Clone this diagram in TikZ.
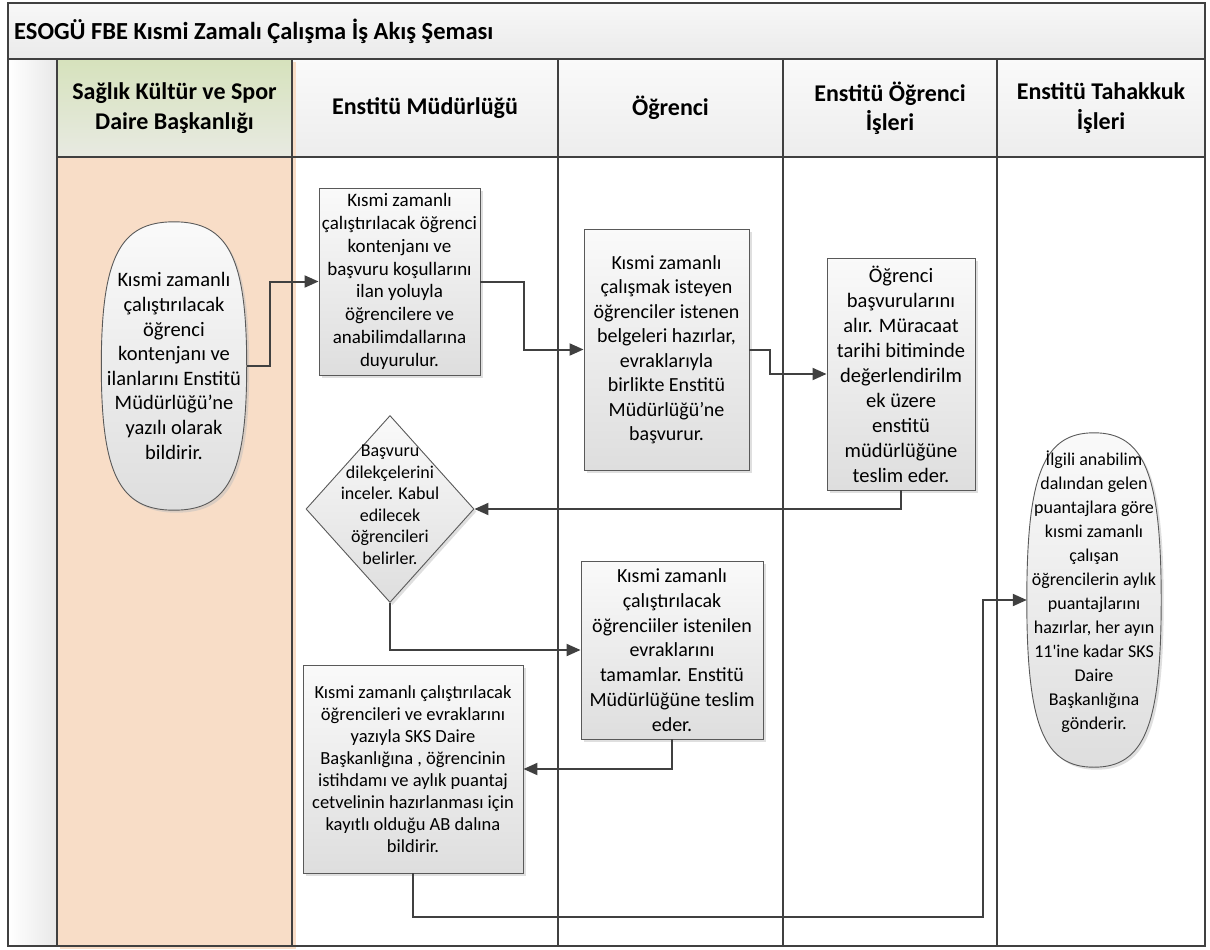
\documentclass[tikz,border=0pt]{standalone}
\usepackage{fontspec}
\setmainfont{Carlito}
\usetikzlibrary{shapes.geometric,arrows.meta,shadows,calc}

\definecolor{laneSand}{RGB}{248,221,199}
\definecolor{laneOliveTop}{RGB}{214,226,188}
\definecolor{laneOliveBottom}{RGB}{232,234,226}
\newcommand\laneColor{black!75}
\newcommand\laneLineWidth{1.6pt}
\newcommand\boxColor{black!65}
\newcommand\boxLineWidth{0.9pt}
\newcommand\arrowColor{black!75}
\newcommand\arrowLineWidth{2pt}
\newcommand\capsuleBend{0.75}
\newcommand\capsuleOutline[1]{(#1.north)
    .. controls ($(#1.north)!\capsuleBend!(#1.north east)$) and ($(#1.east)!\capsuleBend!(#1.north east)$) .. (#1.east)
    .. controls ($(#1.east)!\capsuleBend!(#1.south east)$) and ($(#1.south)!\capsuleBend!(#1.south east)$) .. (#1.south)
    .. controls ($(#1.south)!\capsuleBend!(#1.south west)$) and ($(#1.west)!\capsuleBend!(#1.south west)$) .. (#1.west)
    .. controls ($(#1.west)!\capsuleBend!(#1.north west)$) and ($(#1.north)!\capsuleBend!(#1.north west)$) .. (#1.north) -- cycle}

\tikzset{
    laneline/.style={draw=\laneColor, line width=\laneLineWidth},
    laneheader/.style={font=\bfseries\fontsize{24}{29.5}\selectfont, align=center, anchor=center, inner sep=0pt},
    flowshade/.style={draw=\boxColor, line width=\boxLineWidth, top color=black!2, bottom color=black!13,
        drop shadow={shadow xshift=2.5pt, shadow yshift=-2.5pt, fill=black!25}},
    flowbox/.style={flowshade, shape=rectangle, align=center, inner sep=0pt, anchor=center},
    flowdiamond/.style={flowshade, shape=diamond, inner sep=0pt, anchor=center},
    capsuleframe/.style={shape=rectangle, inner sep=0pt, anchor=center},
    flowtext/.style={align=center, inner sep=0pt, anchor=center},
    flowarrow/.style={draw=\arrowColor, line width=\arrowLineWidth, -{Triangle[length=14pt,width=12pt]}}
}

\begin{document}
\begin{tikzpicture}[x=1pt, y=1pt]

    \useasboundingbox (0,0) rectangle (1210,-950);

%Part One
    \shade [top color=black!3, bottom color=black!8] (8,-3) rectangle (1205,-59);
    \shade [left color=white, right color=black!9] (8,-59) rectangle (57,-946);
    \shade [top color=black!2, bottom color=black!7] (292,-59) rectangle (1205,-157);
    \fill [laneSand] (60,-62) rectangle (296,-949);
    \shade [top color=laneOliveTop, bottom color=laneOliveBottom] (57,-59) rectangle (292,-157);
    \fill [laneSand] (57,-157) rectangle (292,-946);

    \draw [laneline] (8,-3) rectangle (1205,-946);
    \draw [laneline] (8,-59) -- (1205,-59);
    \draw [laneline] (57,-157) -- (1205,-157);
    \foreach \x in {57,292,558,783,997}{
        \draw [laneline] (\x,-59) -- (\x,-946);
    }

    \node [anchor=west, inner sep=0pt, font=\bfseries\fontsize{24.5}{29}\selectfont] (Chart_Title) at (14,-31) {ESOGÜ FBE Kısmi Zamalı Çalışma İş Akış Şeması};

    \node [laneheader] (Lane_Header_First) at (174.5,-108) {Sağlık Kültür ve Spor\\Daire Başkanlığı};
    \node [laneheader] (Lane_Header_Second) at (425,-108) {Enstitü Müdürlüğü};
    \node [laneheader] (Lane_Header_Third) at (670.5,-108) {Öğrenci};
    \node [laneheader] (Lane_Header_Fourth) at (890,-108) {Enstitü Öğrenci\\İşleri};
    \node [laneheader] (Lane_Header_Fifth) at (1101,-108) {Enstitü Tahakkuk\\İşleri};

%Part Two
    \node [capsuleframe, minimum width=145pt, minimum height=288pt] (Flow_Start) at (174,-366) {};
    \draw [flowshade] \capsuleOutline{Flow_Start};
    \node [flowtext, font=\fontsize{20.5}{24.6}\selectfont] (Flow_Start_Text) at (Flow_Start) {Kısmi zamanlı\\çalıştırılacak\\öğrenci\\kontenjanı ve\\ilanlarını Enstitü\\Müdürlüğü’ne\\yazılı olarak\\bildirir.};

    \node [flowbox, minimum width=161pt, minimum height=187pt, font=\fontsize{19}{22.8}\selectfont] (Flow_Box_First) at (399.5,-281.5) {Kısmi zamanlı\\çalıştırılacak öğrenci\\kontenjanı ve\\başvuru koşullarını\\ilan yoluyla\\öğrencilere ve\\anabilimdallarına\\duyurulur.};

    \node [flowbox, minimum width=165pt, minimum height=241pt, font=\fontsize{20}{24.5}\selectfont] (Flow_Box_Second) at (666.5,-349.5) {Kısmi zamanlı\\çalışmak isteyen\\öğrenciler istenen\\belgeleri hazırlar,\\evraklarıyla\\birlikte Enstitü\\Müdürlüğü’ne\\başvurur.};

    \node [flowbox, minimum width=148pt, minimum height=232pt, font=\fontsize{20.5}{25}\selectfont] (Flow_Box_Third) at (901,-374) {Öğrenci\\başvurularını\\alır. Müracaat\\tarihi bitiminde\\değerlendirilm\\ek üzere\\enstitü\\müdürlüğüne\\teslim eder.};

    \node [flowdiamond, minimum width=168pt, minimum height=187pt] (Flow_Decision) at (390,-509) {};
    \node [flowtext, font=\fontsize{18}{21.5}\selectfont] (Flow_Decision_Text) at ([yshift=4pt]Flow_Decision.center) {Başvuru\\dilekçelerini\\inceler. Kabul\\edilecek\\öğrencileri\\belirler.};

    \node [flowbox, minimum width=182pt, minimum height=178pt, font=\fontsize{20}{24.8}\selectfont] (Flow_Box_Fourth) at (672,-650) {Kısmi zamanlı\\çalıştırılacak\\öğrenciiler istenilen\\evraklarını\\tamamlar. Enstitü\\Müdürlüğüne teslim\\eder.};

    \node [flowbox, minimum width=220pt, minimum height=208pt, font=\fontsize{18.5}{22}\selectfont] (Flow_Box_Fifth) at (413,-769) {Kısmi zamanlı çalıştırılacak\\öğrencileri ve evraklarını\\yazıyla SKS Daire\\Başkanlığına , öğrencinin\\istihdamı ve aylık puantaj\\cetvelinin hazırlanması için\\kayıtlı olduğu AB dalına\\bildirir.};

    \node [capsuleframe, minimum width=134pt, minimum height=334pt] (Flow_End) at (1094,-600) {};
    \draw [flowshade] \capsuleOutline{Flow_End};
    \node [flowtext, font=\fontsize{18}{24}\selectfont] (Flow_End_Text) at ([yshift=8pt]Flow_End.center) {İlgili anabilim\\dalından gelen\\puantajlara göre\\kısmi zamanlı\\çalışan\\öğrencilerin aylık\\puantajlarını\\hazırlar, her ayın\\11\textquotesingle ine kadar SKS\\Daire\\Başkanlığına\\gönderir.};

%Part Three
    \draw [flowarrow] (Flow_Start.east) -- ++(23,0) |- (Flow_Box_First.west);
    \draw [flowarrow] (Flow_Box_First.east) -- ++(44,0) |- (Flow_Box_Second.west);
    \draw [flowarrow] (Flow_Box_Second.east) -- ++(21,0) |- (Flow_Box_Third.west);
    \draw [flowarrow] (Flow_Box_Third.south) |- (Flow_Decision.east);
    \draw [flowarrow] (Flow_Decision.south) |- (Flow_Box_Fourth.west);
    \draw [flowarrow] (Flow_Box_Fourth.south) |- (Flow_Box_Fifth.east);

    \coordinate (Flow_Turn_Bottom) at (983,-917);
    \draw [flowarrow] (Flow_Box_Fifth.south) |- (Flow_Turn_Bottom) |- (Flow_End.west);

\end{tikzpicture}
\end{document}
